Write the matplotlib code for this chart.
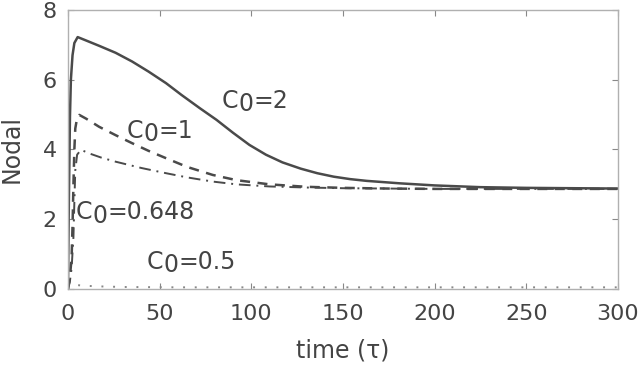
import matplotlib
matplotlib.use("Agg")
import matplotlib.pyplot as plt
from matplotlib.transforms import offset_copy

# Data
t_c2 = [0, 0.5, 1.1, 1.6, 2.5, 3.5, 5.3, 10, 17, 26, 35, 44, 53.5, 62, 72, 81, 90, 99, 108, 117, 127, 136, 145, 154, 163, 181, 200, 225, 250, 275, 300]
v_c2 = [0, 2.5, 4.94, 6.0, 6.7, 7.05, 7.22, 7.12, 6.97, 6.77, 6.52, 6.23, 5.90, 5.56, 5.18, 4.85, 4.48, 4.13, 3.85, 3.63, 3.45, 3.32, 3.22, 3.15, 3.10, 3.03, 2.97, 2.92, 2.90, 2.89, 2.88]

t_c1 = [0, 1, 2, 2.5, 3, 3.5, 4, 5, 6.2, 10, 17, 26, 35, 44, 53.5, 65, 79, 92, 110, 130, 150, 175, 200, 250, 300]
v_c1 = [0, 0.3, 0.9, 1.8, 3.0, 4.0, 4.6, 4.9, 4.99, 4.88, 4.65, 4.41, 4.18, 3.96, 3.75, 3.5, 3.27, 3.12, 3.0, 2.93, 2.9, 2.88, 2.87, 2.87, 2.87]

t_c0648 = [0, 1, 2, 3, 3.5, 4, 5, 7.1, 12, 18, 26, 40, 53.5, 65, 79, 92, 110, 130, 150, 200, 300]
v_c0648 = [0, 0.2, 0.6, 1.5, 2.5, 3.4, 3.85, 3.99, 3.88, 3.77, 3.65, 3.47, 3.32, 3.2, 3.08, 3.0, 2.94, 2.91, 2.89, 2.87, 2.87]

t_c05 = [0, 2, 4, 8, 15, 30, 60, 300]
v_c05 = [0, 0.1, 0.12, 0.1, 0.08, 0.06, 0.05, 0.05]

labels = ["2", "1", "0.648", "0.5"]
label_t = [84, 32, 4.4, 43]
label_v = [5.4, 4.53, 2.2, 0.78]

xticks = [0, 50, 100, 150, 200, 250, 300]
yticks = [0, 2, 4, 6, 8]

TXT = "#444444"
LINE = "#4a4a4a"
FS = 16

fig = plt.figure(figsize=(6.41, 3.65), dpi=100)
ax = fig.add_axes([0.106, 0.208, 0.858, 0.765])

ax.plot(t_c2, v_c2, color=LINE, lw=1.8, ls="-")
ax.plot(t_c1, v_c1, color=LINE, lw=1.8, ls=(0, (4, 3)))
ax.plot(t_c0648, v_c0648, color=LINE, lw=1.4, ls=(0, (6, 3, 1, 3)))
ax.plot(t_c05, v_c05, color="#888888", lw=1.4, ls=(0, (1, 5)))

ax.set_xlim(0, 300)
ax.set_ylim(0, 8)
ax.set_xticks(xticks)
ax.set_yticks(yticks)
ax.tick_params(direction="in", top=True, right=True, length=4, width=0.8,
               color="#888888", labelcolor=TXT, labelsize=FS)
ax.tick_params(axis="x", pad=11)
ax.tick_params(axis="y", pad=8)
for s in ax.spines.values():
    s.set_color("#b0b0b0")
    s.set_linewidth(1.0)

ax.set_xlabel("time (τ)", fontsize=17, color=TXT, labelpad=10)
ax.set_ylabel("Nodal", fontsize=17, color=TXT, labelpad=14)

LFS = 17
for lab, tx, vy in zip(labels, label_t, label_v):
    ax.text(tx, vy, "C", fontsize=LFS, color=TXT, ha="left", va="center")
    tr = offset_copy(ax.transData, fig=fig, x=0.698 * LFS, y=-2.5, units="points")
    ax.text(tx, vy, "0", fontsize=LFS, color=TXT, ha="left", va="center", transform=tr)
    tr2 = offset_copy(ax.transData, fig=fig, x=(0.698 + 0.636) * LFS, y=0, units="points")
    ax.text(tx, vy, "=" + lab, fontsize=LFS, color=TXT, ha="left", va="center", transform=tr2)

fig.savefig("out.png", dpi=100)
